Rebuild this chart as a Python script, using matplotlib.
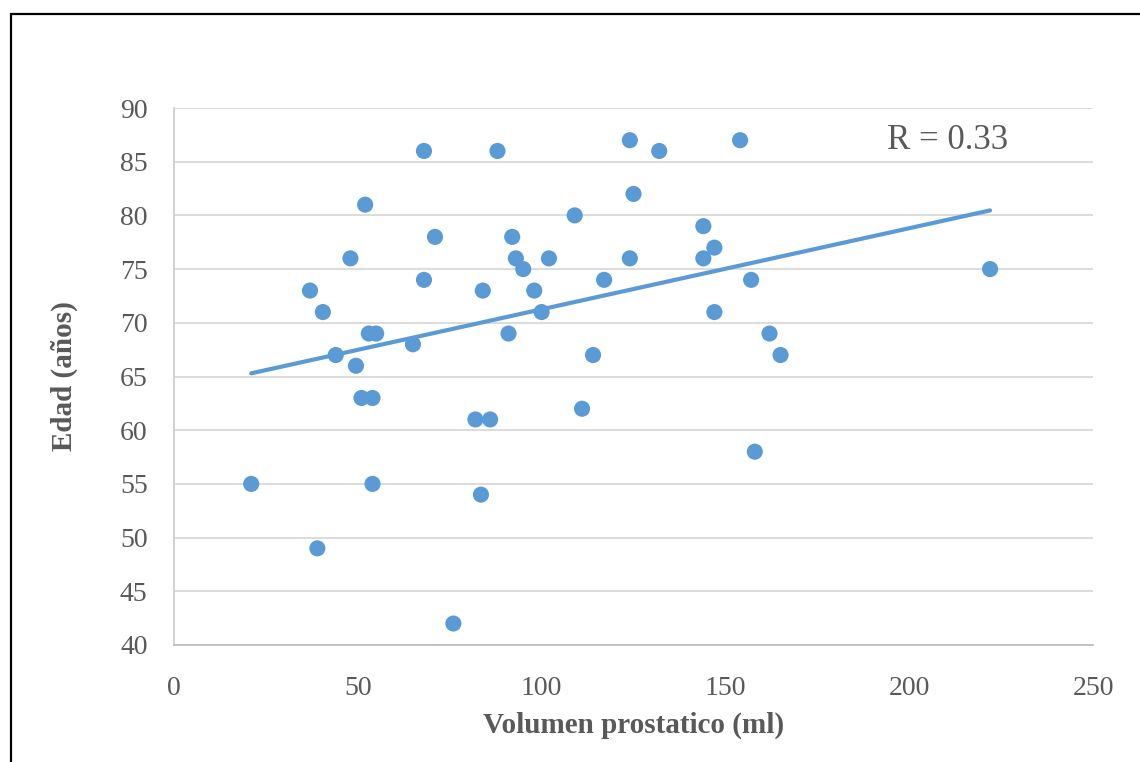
import numpy as np
import matplotlib.pyplot as plt
from matplotlib.patches import Rectangle

volumen = [21, 39, 37, 40.5, 44, 48, 49.5, 51, 52, 53, 54, 54, 55, 65, 68, 68, 71, 76,
           82, 83.5, 84, 86, 88, 91, 92, 93, 95, 98, 100, 102, 109, 111, 114, 117,
           124, 124, 125, 132, 144, 144, 147, 147, 154, 157, 158, 162, 165, 222]
edad = [55, 49, 73, 71, 67, 76, 66, 63, 81, 69, 63, 55, 69, 68, 86, 74, 78, 42,
        61, 54, 73, 61, 86, 69, 78, 76, 75, 73, 71, 76, 80, 62, 67, 74,
        87, 76, 82, 86, 79, 76, 77, 71, 87, 74, 58, 69, 67, 75]
r_label = "R = 0.33"
x_ticks = [0, 50, 100, 150, 200, 250]
y_ticks = [40, 45, 50, 55, 60, 65, 70, 75, 80, 85, 90]

blue = "#5B9BD5"
gray = "#595959"
plt.rcParams['font.family'] = ['Liberation Serif', 'DejaVu Serif']

fig = plt.figure(figsize=(11.4, 7.62), dpi=100)
ax = fig.add_axes([174/1140, 1-645/762, (1093-174)/1140, (645-108)/762])

# outer frame
fig.patches.append(Rectangle((11/1140, -0.1), 1.2, 1 - 14/762 + 0.1, transform=fig.transFigure,
                             fill=False, edgecolor='black', linewidth=1.6))

x = np.array(volumen, dtype=float)
y = np.array(edad, dtype=float)
slope, intercept = np.polyfit(x, y, 1)
xs = np.array([x.min(), x.max()])
ax.plot(xs, slope*xs + intercept, color=blue, linewidth=3, solid_capstyle='round', zorder=2)
ax.scatter(x, y, s=135, color=blue, edgecolors='none', zorder=3)

ax.set_xlim(0, 250)
ax.set_ylim(40, 90)
ax.set_xticks(x_ticks)
ax.set_yticks(y_ticks)
ax.grid(axis='y', color='#d9d9d9', linewidth=1.3, zorder=0)
ax.set_axisbelow(True)
for s in ['top', 'right']:
    ax.spines[s].set_visible(False)
ax.spines['left'].set_color('#d0d0d0')
ax.spines['bottom'].set_color('#bfbfbf')
ax.spines['left'].set_linewidth(1.3)
ax.spines['bottom'].set_linewidth(1.3)
ax.tick_params(axis='both', length=0, labelsize=20, colors=gray)
ax.tick_params(axis='x', pad=22)
ax.tick_params(axis='y', pad=19)

ax.set_xlabel("Volumen prostatico (ml)", fontsize=21, fontweight='bold', color=gray, labelpad=8)
ax.set_ylabel("Edad (años)", fontsize=21, fontweight='bold', color=gray, labelpad=30)
ax.text(210.5, 87, r_label, fontsize=25, color=gray, ha='center', va='center')

fig.savefig("out.png", dpi=100)
